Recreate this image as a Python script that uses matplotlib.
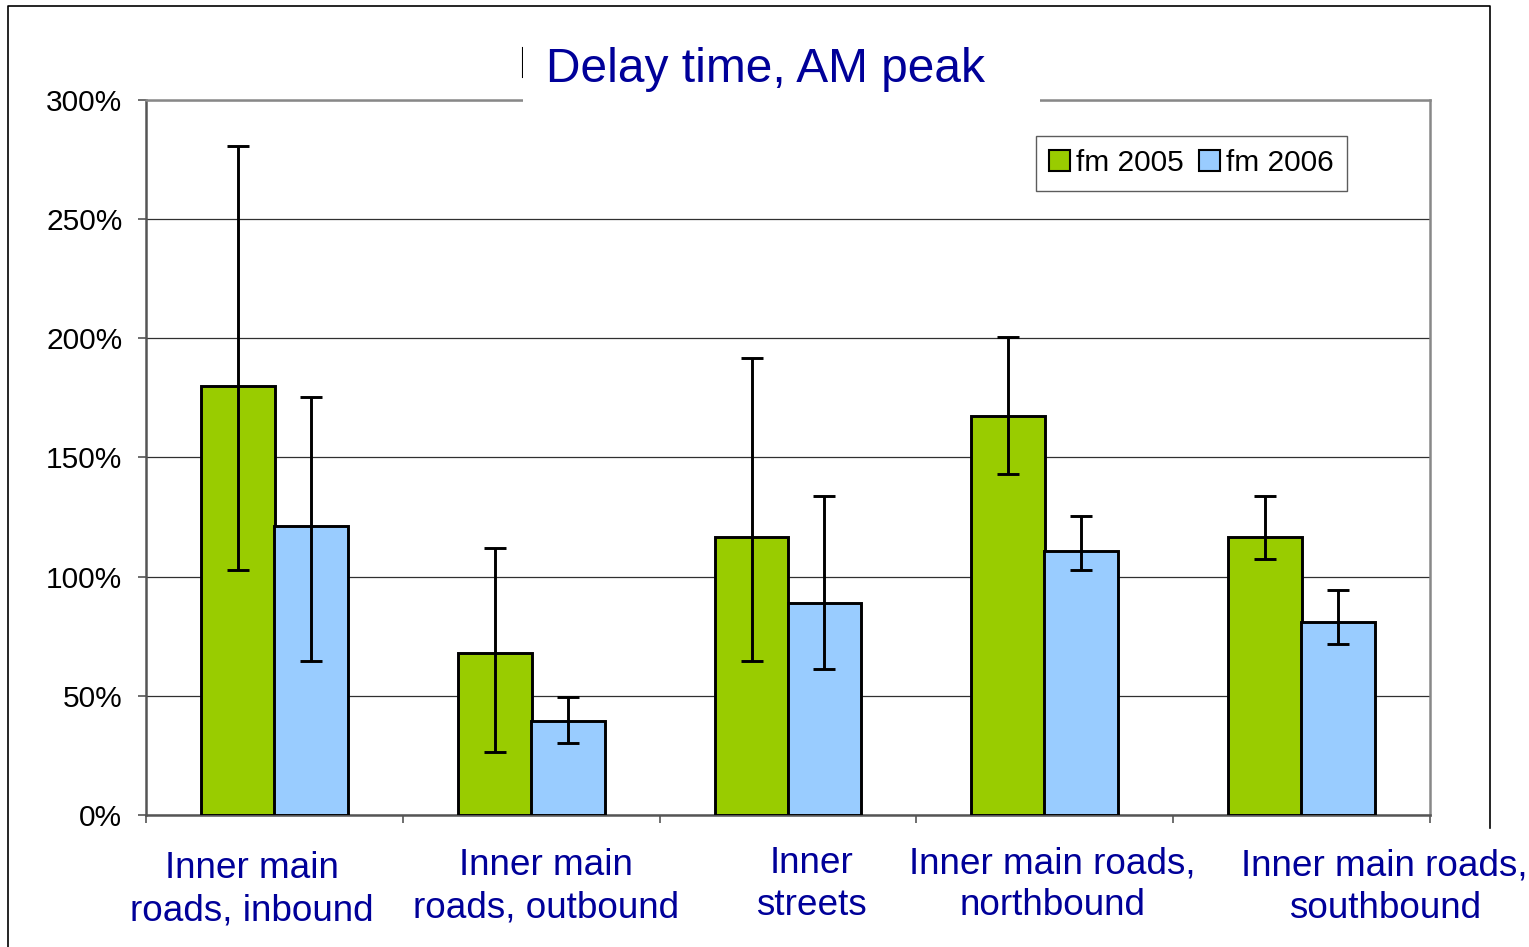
import matplotlib
matplotlib.use("Agg")
import matplotlib.pyplot as plt
import numpy as np
from matplotlib.lines import Line2D
from matplotlib.patches import Rectangle

categories = ["Inner main\nroads, inbound", "Inner main\nroads, outbound", "Inner\nstreets",
              "Inner main roads,\nnorthbound", "Inner main roads,\nsouthbound"]
series_names = ["fm 2005", "fm 2006"]
vals_2005 = [180, 68, 116.6, 167.4, 116.6]
err_hi_2005 = [280.7, 112, 191.7, 200.6, 133.8]
err_lo_2005 = [102.8, 26.4, 64.6, 143.1, 107.4]
vals_2006 = [121.3, 39.4, 89, 110.8, 81]
err_hi_2006 = [175.4, 49.5, 133.8, 125.5, 94.4]
err_lo_2006 = [64.6, 30.2, 61.3, 102.8, 71.7]
yticks = [0, 50, 100, 150, 200, 250, 300]

plt.rcParams['font.family'] = ['Liberation Sans', 'DejaVu Sans']

W, H = 1529, 947
fig = plt.figure(figsize=(W / 100, H / 100), dpi=100)
ax = fig.add_axes([146 / W, 1 - 815 / H, (1430 - 146) / W, (815 - 100) / H])

green = "#99CC00"
blue = "#99CCFF"
x = np.arange(len(categories))
bw = 0.287
off = 0.142

v5 = np.array(vals_2005); v6 = np.array(vals_2006)
ax.bar(x - off, v5, bw, color=green, edgecolor="black", linewidth=2.1, zorder=3, label=series_names[0])
ax.bar(x + off, v6, bw, color=blue, edgecolor="black", linewidth=2.1, zorder=3, label=series_names[1])
ax.errorbar(x - off, v5, yerr=[v5 - np.array(err_lo_2005), np.array(err_hi_2005) - v5],
            fmt="none", ecolor="black", elinewidth=2.1, capsize=8, capthick=2.1, zorder=4)
ax.errorbar(x + off, v6, yerr=[v6 - np.array(err_lo_2006), np.array(err_hi_2006) - v6],
            fmt="none", ecolor="black", elinewidth=2.1, capsize=8, capthick=2.1, zorder=4)

ax.set_xlim(-0.5, len(categories) - 0.5)
ax.set_ylim(0, 300)
ax.set_yticks(yticks)
ax.set_yticklabels([f"{t}%" for t in yticks], fontsize=21.5)
ax.yaxis.grid(True, color="#303030", linewidth=0.9, zorder=0)
ax.set_axisbelow(True)
ax.set_xticks(np.arange(len(categories) + 1) - 0.5)
ax.set_xticklabels([])
ax.tick_params(axis="both", direction="out", length=6, width=1.2, color="#555555")
ax.tick_params(axis="y", pad=11)
for s in ax.spines.values():
    s.set_color("#888888")
    s.set_linewidth(1.8)
ax.spines["left"].set_color("#555555")
ax.spines["bottom"].set_color("#555555")

# category labels
label_dx = [-0.087, 0.058, 0.09, 0.03, 0.324]
label_y = [-0.0500, -0.0465, -0.0435, -0.0435, -0.0465]
trans = matplotlib.transforms.blended_transform_factory(ax.transData, ax.transAxes)
for i, (c, dx, yy) in enumerate(zip(categories, label_dx, label_y)):
    ax.text(i + dx, yy, c, transform=trans, ha="center", va="top", fontsize=26.6,
            color="#000099", linespacing=1.27, clip_on=False)

# legend
handles = [Rectangle((0, 0), 1, 1, facecolor=green, edgecolor="black", linewidth=1.5),
           Rectangle((0, 0), 1, 1, facecolor=blue, edgecolor="black", linewidth=1.5)]
leg = ax.legend(handles, series_names, loc="upper right", bbox_to_anchor=(0.9354, 0.9497),
                ncol=2, fontsize=21.5, frameon=True, fancybox=False, handlelength=0.7,
                handleheight=0.7, handletextpad=0.2, columnspacing=0.5,
                borderpad=0.45, borderaxespad=0)
leg.get_frame().set_edgecolor("#333333")
leg.get_frame().set_linewidth(1.0)

# title with white background covering the top spine
fig.text(765 / W, 1 - 82 / H, "Delay time, AM peak", ha="center", va="baseline", fontsize=34.5,
         color="#000099")
fig.patches.append(Rectangle((523 / W, 1 - 110 / H), (1040 - 523) / W, 80 / H,
                             transform=fig.transFigure, facecolor="white", edgecolor="none",
                             zorder=2.5))
fig.lines.append(Line2D([523 / W, 523 / W], [1 - 48 / H, 1 - 77 / H], transform=fig.transFigure,
                        color="black", linewidth=1.5))

# outer frame
fig.lines.append(Line2D([8 / W, 8 / W, 1490 / W, 1490 / W],
                        [0, 1 - 6 / H, 1 - 6 / H, 1 - 828 / H],
                        transform=fig.transFigure, color="black", linewidth=1.2))

fig.savefig("out.png", dpi=100)
